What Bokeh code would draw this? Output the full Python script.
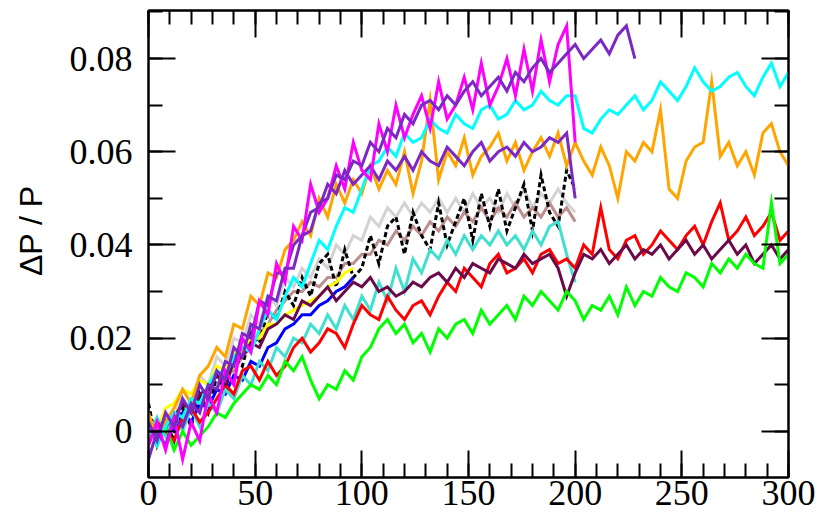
from bokeh.plotting import figure
from bokeh.models import Range1d, FixedTicker, LinearAxis, ColumnDataSource
from bokeh.embed import file_html
from bokeh.resources import INLINE

SCALE = 0.001
x_full = list(range(0, 301, 4))     # series running to 300
x_half = list(range(0, 201, 4))     # series ending at 200
x_pur = list(range(0, 229, 4))      # violet series ending near 230
x_short = list(range(0, 97, 4))     # blue / yellow ending near 97

magenta = [-3, 2, -4, 3, -6, 2, -2, 8, 4, 13, 10, 20, 17, 28, 25, 36, 32, 44, 41, 53,
           47, 50, 57, 52, 62, 56, 54, 66, 60, 70, 63, 68, 72, 65, 75, 67, 70, 76, 69, 79,
           70, 74, 80, 72, 82, 73, 84, 75, 83, 87, 62]
violet_low = [-6, 0, -3, 3, 1, 6, 4, 10, 9, 15, 14, 21, 20, 28, 27, 34, 34, 40, 42, 47,
              48, 53, 51, 56, 53, 55, 57, 54, 58, 56, 59, 56, 60, 58, 57, 61, 59, 57, 60, 62,
              58, 60, 61, 59, 62, 60, 61, 63, 62, 64, 50]
violet_high = [2, -2, 4, 1, 7, 4, 10, 7, 13, 11, 18, 16, 23, 22, 29, 28, 35, 35, 42, 43,
               49, 50, 55, 54, 58, 57, 62, 60, 65, 63, 68, 66, 70, 71, 69, 72, 70, 73, 75, 72,
               74, 76, 73, 77, 75, 78, 80, 77, 79, 81, 83, 80, 82, 84, 81, 85, 87, 80]
cyan = [2, -3, 1, 4, 3, 7, 6, 10, 13, 12, 16, 18, 17, 22, 26, 24, 29, 33, 31, 36,
        41, 39, 44, 48, 47, 52, 57, 58, 61, 59, 64, 62, 63, 67, 65, 64, 68, 66, 65, 69,
        70, 67, 68, 71, 69, 70, 73, 71, 70, 72,
        72, 65, 64, 67, 69, 68, 70, 72, 69, 71, 75, 73, 71, 74, 78, 75, 73, 74, 76, 77,
        74, 72, 76, 79, 74, 77]
orange = [4, -2, 2, 5, 9, 6, 12, 14, 18, 16, 23, 22, 29, 27, 34, 33, 39, 41, 45, 42,
          50, 46, 53, 49, 54, 51, 57, 52, 56, 53, 60, 51, 58, 71, 54, 60, 57, 63, 55, 59,
          61, 64, 58, 62, 56, 60, 63, 59, 64, 57,
          62, 58, 55, 61, 57, 50, 60, 58, 62, 60, 69, 52, 50, 58, 61, 62, 75, 59, 62, 57,
          60, 55, 64, 66, 60, 57]
black = [6, -3, 2, -2, 5, 1, 8, 4, 12, 9, 16, 14, 21, 19, 26, 24, 30, 27, 33, 29,
         36, 38, 31, 39, 33, 35, 42, 36, 44, 46, 38, 47, 42, 39, 49, 40, 45, 50, 41, 51,
         44, 52, 43, 48, 53, 43, 55, 47, 44, 56, 52]
lightgray = [2, -2, 4, 2, 9, 6, 12, 10, 16, 14, 20, 19, 25, 23, 29, 27, 33, 31, 35, 33, 37,
             35, 40, 38, 42, 41, 46, 44, 48, 46, 49, 46, 49, 47, 50, 47, 50, 47, 51, 48, 50,
             47, 51, 48, 52, 48, 51, 49, 52, 49, 47]
rosy = [-2, 1, -1, 3, 2, 6, 5, 9, 9, 12, 13, 16, 18, 21, 23, 26, 28, 30, 30, 32, 31, 33, 33,
        36, 36, 38, 38, 41, 40, 43, 41, 44, 42, 45, 43, 46, 44, 47, 45, 48, 45, 48, 46, 49,
        46, 48, 46, 49, 46, 48, 45]
turquoise = [-1, 3, -1, 4, 0, 5, 1, 6, 4, 9, 7, 12, 10, 15, 13, 18, 16, 20, 19, 23, 21, 25,
             22, 27, 24, 29, 26, 32, 28, 35, 30, 37, 34, 39, 37, 41, 38, 42, 39, 42, 40, 43,
             40, 42, 39, 43, 40, 44, 45, 38, 32]
red = [-3, 2, 0, -2, 3, 5, 2, 4, 7, 10, 8, 13, 14, 11, 15, 12, 14, 18, 20, 17,
       19, 22, 21, 18, 23, 27, 25, 24, 29, 26, 24, 27, 28, 25, 29, 32, 30, 35, 33, 31,
       36, 38, 34, 35, 37, 34, 38, 39, 36, 37,
       35, 40, 38, 48, 39, 37, 41, 42, 38, 40, 43, 41, 39, 42, 44, 40, 45, 49, 41, 43,
       46, 42, 44, 47, 41, 43]
maroon = [2, -2, 1, 3, 6, 4, 8, 9, 12, 10, 15, 16, 19, 18, 22, 23, 25, 24, 28, 27,
          29, 31, 28, 30, 32, 31, 33, 30, 31, 29, 30, 32, 31, 33, 34, 32, 35, 33, 36, 35,
          34, 37, 36, 35, 38, 36, 37, 38, 35, 29,
          34, 38, 37, 39, 36, 38, 40, 37, 39, 38, 40, 37, 39, 41, 38, 40, 37, 39, 41, 38,
          40, 36, 38, 40, 37, 39]
green = [2, -3, 1, -4, 0, -3, -1, 1, 4, 3, 6, 8, 10, 9, 12, 10, 15, 13, 16, 11,
         7, 10, 9, 13, 11, 16, 18, 22, 24, 21, 23, 19, 21, 17, 22, 20, 23, 24, 21, 26,
         23, 25, 27, 24, 29, 27, 30, 28, 26, 30,
         28, 24, 27, 26, 29, 25, 31, 27, 30, 29, 33, 31, 30, 34, 33, 31, 36, 34, 37, 35,
         38, 36, 35, 49, 36, 38]
blue = [1, -2, 2, 0, 4, 2, 6, 5, 9, 8, 12, 11, 15, 14, 18, 19, 22, 23, 25, 25, 27, 28, 30,
        31, 33]
yellow = [3, 0, 5, 6, 9, 8, 11, 10, 14, 13, 17, 17, 20, 20, 23, 23, 25, 26, 27, 28, 29, 31,
          32, 34, 35]

# drawing order: first listed is drawn first (bottom)
series = [
    ("lightgray", x_half, lightgray, "#d3d3d3", "solid"),
    ("rosy", x_half, rosy, "#bc8f8f", "solid"),
    ("black", x_half, black, "#000000", "5 3"),
    ("yellow", x_short, yellow, "#ffff00", "solid"),
    ("blue", x_short, blue, "#0000ff", "solid"),
    ("turquoise", x_half, turquoise, "#40e0d0", "solid"),
    ("red", x_full, red, "#ff0000", "solid"),
    ("maroon", x_full, maroon, "#6a0a4a", "solid"),
    ("green", x_full, green, "#00ff00", "solid"),
    ("orange", x_full, orange, "#ffa500", "solid"),
    ("cyan", x_full, cyan, "#00ffff", "solid"),
    ("violet_low", x_half, violet_low, "#7b28c4", "solid"),
    ("magenta", x_half, magenta, "#ff00ff", "solid"),
    ("violet_high", x_pur, violet_high, "#7b28c4", "solid"),
]

p = figure(width=835, height=518, output_backend="svg", toolbar_location=None,
           x_range=Range1d(0, 300), y_range=Range1d(-0.0099, 0.0903))
p.min_border_left = 148
p.min_border_right = 47
p.min_border_top = 10
p.min_border_bottom = 41
p.background_fill_color = "white"
p.border_fill_color = "white"
p.outline_line_color = "black"
p.outline_line_width = 2
p.xgrid.visible = False
p.ygrid.visible = False

for name, xs, ys, color, dash in series:
    n = min(len(xs), len(ys))
    src = ColumnDataSource(dict(x=xs[:n], y=[v * SCALE for v in ys[:n]]))
    p.line("x", "y", source=src, line_color=color, line_width=3, line_dash=dash,
           line_join="miter")

x_major = [0, 50, 100, 150, 200, 250, 300]
x_minor = list(range(0, 301, 10))
y_major = [0, 0.02, 0.04, 0.06, 0.08]
y_minor = [-0.01, 0, 0.01, 0.02, 0.03, 0.04, 0.05, 0.06, 0.07, 0.08, 0.09]
y_labels = {0: "0", 0.02: "0.02", 0.04: "0.04", 0.06: "0.06", 0.08: "0.08"}


def style_axis(ax, major, minor, show_labels):
    ax.ticker = FixedTicker(ticks=major, minor_ticks=minor)
    ax.major_tick_in = 27
    ax.major_tick_out = 0
    ax.minor_tick_in = 14
    ax.minor_tick_out = 0
    ax.axis_line_width = 2
    ax.major_tick_line_width = 2
    ax.minor_tick_line_width = 2
    ax.axis_line_color = "black"
    ax.major_tick_line_color = "black"
    ax.minor_tick_line_color = "black"
    if show_labels:
        ax.major_label_text_font = "Liberation Serif"
        ax.major_label_text_font_size = "36px"
        ax.major_label_text_color = "black"
    else:
        ax.major_label_text_font_size = "0px"
        ax.major_label_text_color = None


xa = p.xaxis[0]
style_axis(xa, x_major, x_minor, True)
xa.major_label_standoff = 3

ya = p.yaxis[0]
style_axis(ya, y_major, y_minor, True)
ya.major_label_overrides = y_labels
ya.major_label_standoff = 16
ya.axis_label = "\u00a0\u00a0\u00a0ΔP / P"
ya.axis_label_text_font = "Liberation Sans"
ya.axis_label_text_font_size = "32px"
ya.axis_label_text_font_style = "normal"
ya.axis_label_text_color = "black"
ya.axis_label_standoff = 18

top = LinearAxis()
style_axis(top, x_major, x_minor, False)
p.add_layout(top, "above")
right = LinearAxis()
style_axis(right, y_major, y_minor, False)
p.add_layout(right, "right")

open("out.html", "w").write(file_html(p, INLINE))
